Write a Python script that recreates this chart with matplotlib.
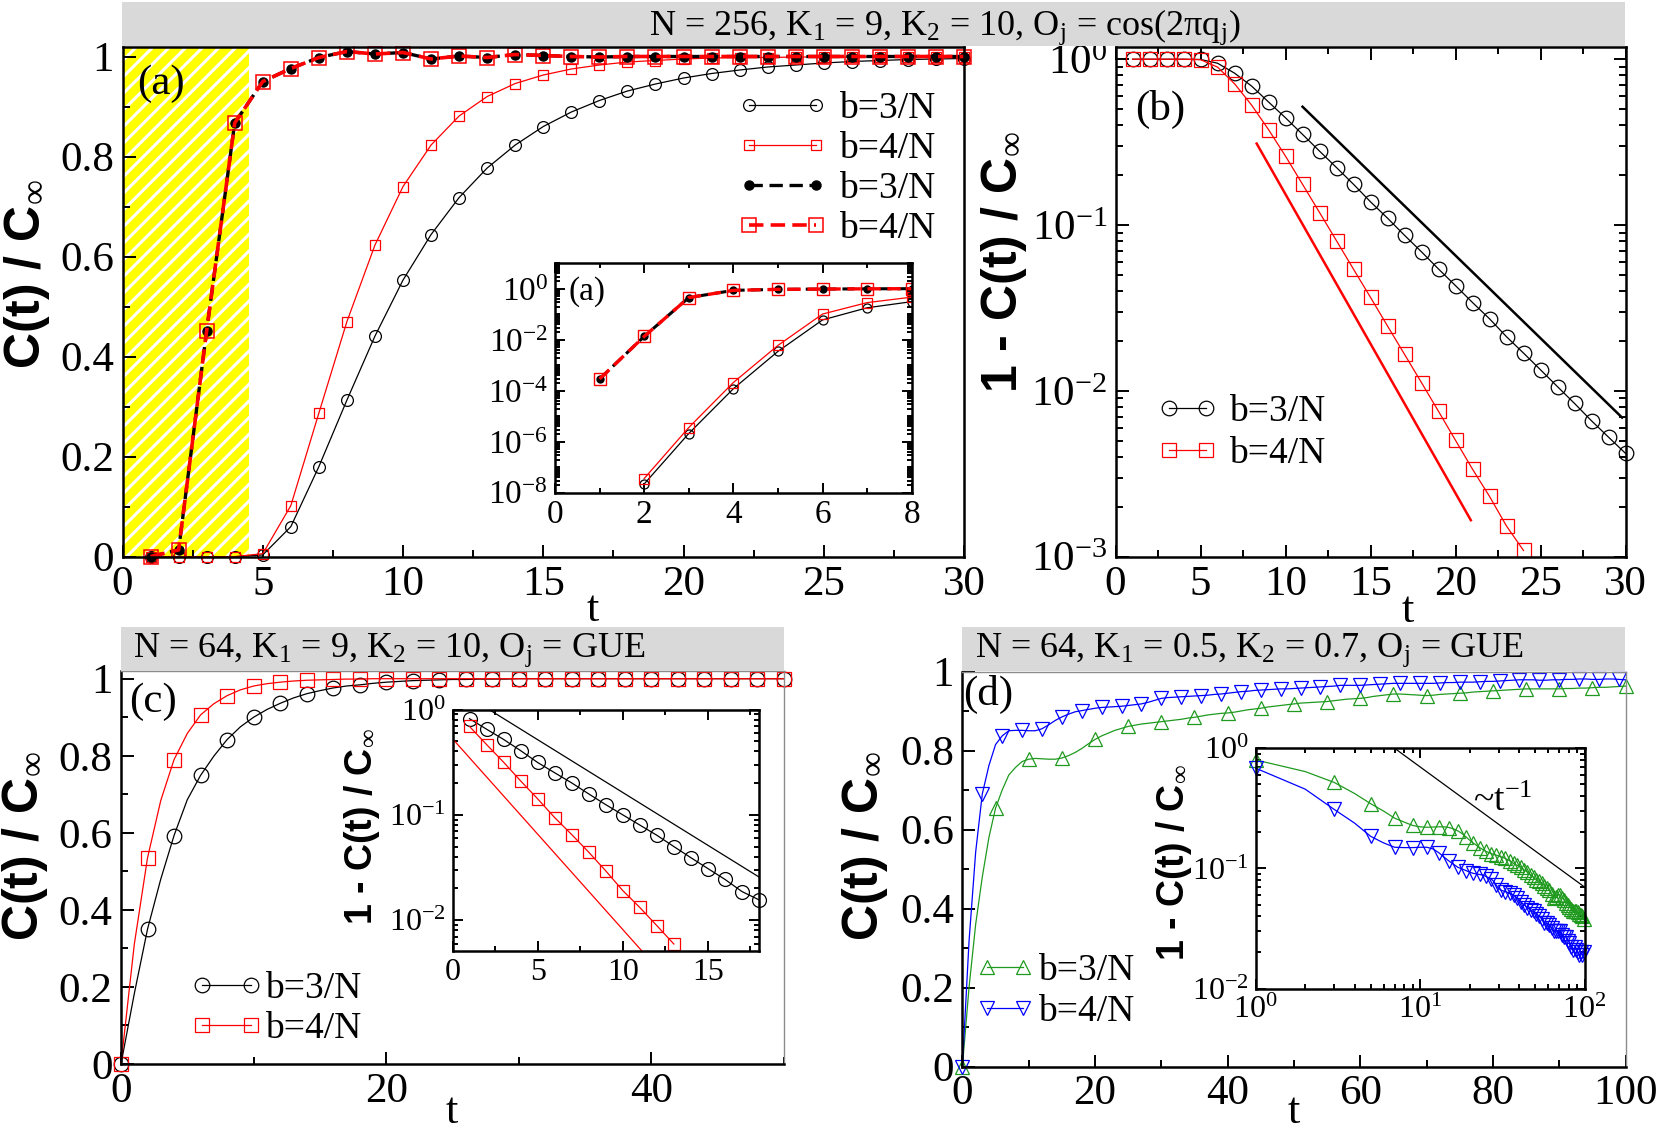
import numpy as np
import matplotlib
matplotlib.use('Agg')
import matplotlib.pyplot as plt
from matplotlib.ticker import MultipleLocator, LogLocator, LogFormatterMathtext, FixedLocator, NullFormatter
from matplotlib.patches import Rectangle

plt.rcParams['font.family'] = ['Liberation Serif', 'DejaVu Serif']
plt.rcParams['mathtext.fontset'] = 'custom'
plt.rcParams['mathtext.rm'] = 'Liberation Serif'
plt.rcParams['mathtext.it'] = 'Liberation Serif:italic'
plt.rcParams['mathtext.bf'] = 'Liberation Serif:bold'
plt.rcParams['hatch.linewidth'] = 2.2

# ---------------- data ----------------
# panel (a): C(t)/C_inf, N=256
t_a = [1, 2, 3, 4, 5, 6, 7, 8, 9, 10, 11, 12, 13, 14, 15, 16, 17, 18, 19, 20,
       21, 22, 23, 24, 25, 26, 27, 28, 29, 30]
a_b3_solid = [0.0, 2.2e-8, 2.1e-6, 1.2e-4, 3.5e-3, 0.060, 0.180, 0.313, 0.441, 0.553,
              0.644, 0.718, 0.777, 0.823, 0.860, 0.889, 0.912, 0.931, 0.945, 0.957,
              0.966, 0.973, 0.979, 0.983, 0.987, 0.990, 0.992, 0.994, 0.995, 0.996]
a_b4_solid = [0.0, 3.6e-8, 3.6e-6, 2.1e-4, 6.0e-3, 0.102, 0.287, 0.470, 0.623, 0.740,
              0.823, 0.881, 0.920, 0.946, 0.963, 0.975, 0.983, 0.989, 0.992, 0.995,
              0.997, 0.998, 0.998, 0.999, 0.999, 0.999, 1.0, 1.0, 1.0, 1.0]
a_b3_dash = [2.9e-4, 0.0135, 0.452, 0.867, 0.950, 0.976, 0.998, 1.010, 1.005, 1.008,
             0.995, 1.001, 0.998, 1.004, 1.002, 1.000, 0.999, 1.000, 1.000, 1.000,
             1.000, 1.000, 1.000, 1.000, 1.000, 1.000, 1.000, 1.000, 1.000, 1.000]
a_b4_dash = [2.9e-4, 0.0135, 0.452, 0.867, 0.950, 0.976, 0.998, 1.010, 1.005, 1.008,
             0.995, 1.001, 0.998, 1.004, 1.002, 1.000, 0.999, 1.000, 1.000, 1.000,
             1.000, 1.000, 1.000, 1.000, 1.000, 1.000, 1.000, 1.000, 1.000, 1.000]

# panel (b): 1 - C(t)/C_inf
t_b3 = t_a
b_b3 = [1.0, 1.0, 1.0, 0.9999, 0.9965, 0.946, 0.824, 0.689, 0.552, 0.443,
        0.352, 0.279, 0.222, 0.176, 0.138, 0.110, 0.0867, 0.0689, 0.0543, 0.0431,
        0.0341, 0.0272, 0.0212, 0.0169, 0.0134, 0.0106, 0.0084, 0.0066, 0.00526, 0.0042]
t_b4 = [1, 2, 3, 4, 5, 6, 7, 8, 9, 10, 11, 12, 13, 14, 15, 16, 17, 18, 19, 20, 21, 22, 23, 24]
b_b4 = [1.0, 1.0, 1.0, 0.9998, 0.994, 0.896, 0.711, 0.529, 0.376, 0.260,
        0.176, 0.119, 0.0803, 0.0541, 0.0366, 0.0246, 0.0166, 0.0112, 0.00752, 0.00503,
        0.00337, 0.00231, 0.00153, 0.00109]
guide_b3_t = [11.0, 29.8]
guide_b3_y = [0.517, 0.0069]
guide_b4_t = [8.3, 20.9]
guide_b4_y = [0.310, 0.00166]

# panel (c): N=64, GUE, K1=9, K2=10
t_c = list(range(0, 51))
c_b3 = [0.0, 0.182, 0.350, 0.480, 0.593, 0.686, 0.749, 0.799, 0.842, 0.875,
        0.900, 0.920, 0.936, 0.950, 0.961, 0.969, 0.976, 0.981, 0.984, 0.988,
        0.991, 0.993, 0.995, 0.996, 0.997, 0.998, 0.998, 0.999, 0.999, 0.999,
        1.0, 1.0, 1.0, 1.0, 1.0, 1.0, 1.0, 1.0, 1.0, 1.0,
        1.0, 1.0, 1.0, 1.0, 1.0, 1.0, 1.0, 1.0, 1.0, 1.0, 1.0]
c_b4 = [0.0, 0.310, 0.535, 0.684, 0.790, 0.858, 0.906, 0.935, 0.956, 0.971,
        0.981, 0.987, 0.991, 0.994, 0.996, 0.997, 0.998, 0.999, 0.999, 1.0,
        1.0, 1.0, 1.0, 1.0, 1.0, 1.0, 1.0, 1.0, 1.0, 1.0,
        1.0, 1.0, 1.0, 1.0, 1.0, 1.0, 1.0, 1.0, 1.0, 1.0,
        1.0, 1.0, 1.0, 1.0, 1.0, 1.0, 1.0, 1.0, 1.0, 1.0, 1.0]
ci_t3 = [1, 2, 3, 4, 5, 6, 7, 8, 9, 10, 11, 12, 13, 14, 15, 16, 17, 18]
ci_b3 = [0.818, 0.650, 0.520, 0.407, 0.314, 0.251, 0.201, 0.158, 0.125, 0.100,
         0.080, 0.064, 0.050, 0.0392, 0.0309, 0.0244, 0.0187, 0.0156]
ci_t4 = [1, 2, 3, 4, 5, 6, 7, 8, 9, 10, 11, 12, 13]
ci_b4 = [0.690, 0.465, 0.316, 0.210, 0.142, 0.0942, 0.065, 0.0442, 0.0294, 0.0191,
         0.0132, 0.00888, 0.00594]
guide_c3_t = [0.0, 18.0]
guide_c3_y = [1.64, 0.0257]
guide_c4_t = [0.0, 18.0]
guide_c4_y = [0.528, 2.9e-4]

# panel (d): N=64, GUE, K1=0.5, K2=0.7 ; decay = 1 - C(t)/C_inf, t = 0..100
t_d = list(range(0, 101))
d_decay_b3 = [1.0, 0.80, 0.64, 0.52, 0.42, 0.346, 0.300, 0.262, 0.243, 0.228,
              0.222, 0.220, 0.221, 0.222, 0.222, 0.219, 0.213, 0.205, 0.195, 0.183,
              0.172, 0.163, 0.156, 0.149, 0.144, 0.139, 0.136, 0.133, 0.131, 0.129,
              0.127, 0.125, 0.123, 0.121, 0.118, 0.116, 0.113, 0.110, 0.108, 0.106,
              0.105, 0.103, 0.100, 0.097, 0.095, 0.093, 0.090, 0.088, 0.086, 0.084,
              0.082, 0.080, 0.079, 0.078, 0.077, 0.076, 0.074, 0.072, 0.070, 0.069,
              0.068, 0.066, 0.063, 0.061, 0.059, 0.057, 0.057, 0.058, 0.059, 0.060,
              0.061, 0.060, 0.058, 0.057, 0.056, 0.055, 0.054, 0.052, 0.051, 0.050,
              0.049, 0.048, 0.047, 0.046, 0.045, 0.044, 0.044, 0.044, 0.044, 0.044,
              0.044, 0.043, 0.043, 0.042, 0.042, 0.041, 0.040, 0.040, 0.039, 0.038, 0.037]
d_decay_b4 = [1.0, 0.683, 0.457, 0.310, 0.238, 0.185, 0.163, 0.150, 0.149, 0.149,
              0.150, 0.150, 0.145, 0.135, 0.124, 0.115, 0.108, 0.102, 0.099, 0.096,
              0.093, 0.091, 0.090, 0.089, 0.088, 0.086, 0.084, 0.082, 0.078, 0.073,
              0.068, 0.066, 0.065, 0.064, 0.063, 0.062, 0.061, 0.060, 0.058, 0.057,
              0.055, 0.053, 0.051, 0.050, 0.048, 0.047, 0.046, 0.045, 0.044, 0.044,
              0.043, 0.042, 0.041, 0.040, 0.039, 0.038, 0.037, 0.035, 0.035, 0.035,
              0.035, 0.034, 0.033, 0.032, 0.031, 0.030, 0.030, 0.030, 0.030, 0.030,
              0.030, 0.030, 0.029, 0.028, 0.028, 0.027, 0.027, 0.027, 0.026, 0.025,
              0.025, 0.024, 0.023, 0.022, 0.021, 0.021, 0.021, 0.022, 0.022, 0.021,
              0.021, 0.020, 0.020, 0.019, 0.019, 0.020, 0.020, 0.019, 0.019, 0.020, 0.021]
guide_d_t = [7.0, 100.0]
guide_d_y = [1.0, 0.070]

legend_labels = ['b=3/N', 'b=4/N']

# ---------------- layout ----------------
W, H = 1663, 1134
fig = plt.figure(figsize=(W / 100, H / 100), dpi=100)
fig.patch.set_facecolor('white')


def add_ax(l, t, r, b):
    return fig.add_axes([l / W, 1 - b / H, (r - l) / W, (b - t) / H])


def fx(x):
    return x / W


def fy(y):
    return 1 - y / H


def style(ax, top=False, right=False, lw=1.8, labelsize=31, gray=False,
          maj=9, mnr=5, pad=6):
    ax.tick_params(which='both', direction='in', top=top, right=right,
                   width=1.4, labelsize=labelsize, pad=pad)
    ax.tick_params(which='major', length=maj)
    ax.tick_params(which='minor', length=mnr)
    for s in ax.spines.values():
        s.set_linewidth(lw)
    if gray:
        for k in ('top', 'right'):
            ax.spines[k].set_linewidth(1.0)
            ax.spines[k].set_color('#8c8c8c')


def legend(ax, handles, labels, x, y, hl, tp, ls):
    ax.legend(handles, labels, loc='upper left', bbox_to_anchor=(fx(x), fy(y)),
              bbox_transform=fig.transFigure, frameon=False, borderpad=0, borderaxespad=0,
              handlelength=hl, handletextpad=tp, labelspacing=ls, numpoints=2, fontsize=27)


HEAD = '#d9d9d9'
fig.patches.append(Rectangle((fx(122), fy(46)), (1625 - 122) / W, 44 / H,
                             transform=fig.transFigure, facecolor=HEAD, edgecolor='none', zorder=0))
fig.patches.append(Rectangle((fx(121), fy(671)), (784 - 121) / W, 44 / H,
                             transform=fig.transFigure, facecolor=HEAD, edgecolor='none', zorder=0))
fig.patches.append(Rectangle((fx(962), fy(671)), (1625 - 962) / W, 44 / H,
                             transform=fig.transFigure, facecolor=HEAD, edgecolor='none', zorder=0))

fig.text(fx(945), fy(35), r'N = 256, K$_1$ = 9, K$_2$ = 10, O$_\mathrm{j}$ = cos(2πq$_\mathrm{j}$)',
         ha='center', va='baseline', fontsize=26)
fig.text(fx(133), fy(657), r'N = 64, K$_1$ = 9, K$_2$ = 10, O$_\mathrm{j}$ = GUE',
         ha='left', va='baseline', fontsize=26)
fig.text(fx(975), fy(657), r'N = 64, K$_1$ = 0.5, K$_2$ = 0.7, O$_\mathrm{j}$ = GUE',
         ha='left', va='baseline', fontsize=26)

YLAB = dict(fontfamily='Liberation Sans', fontweight='bold', rotation=90, ha='center', va='center')
RED = '#ff0000'
GREEN = '#1f9a1f'
BLUE = '#0000ff'
ms_kw = dict(mfc='none', mew=0.9)
fmt_lin = plt.FuncFormatter(lambda v, p: ('%g' % round(v, 2)))

# ---------------- panel (a) ----------------
ax = add_ax(122.5, 46.5, 964, 556.7)
ax.axvspan(0, 4.5, facecolor='#ffff00', edgecolor='white', hatch='//', linewidth=0, zorder=0)
l1, = ax.plot(t_a, a_b3_solid, '-', color='k', lw=0.9, marker='o', ms=8.5, mec='k', clip_on=False, **ms_kw)
l2, = ax.plot(t_a, a_b4_solid, '-', color=RED, lw=0.9, marker='s', ms=7.5, mec=RED, clip_on=False, **ms_kw)
l3, = ax.plot(t_a, a_b3_dash, color='k', lw=2.4, ls=(0, (4, 2)), marker='o', ms=6.5, mfc='k', mec='k',
              clip_on=False)
l4, = ax.plot(t_a, a_b4_dash, color=RED, lw=2.6, ls=(0, (4, 2)), marker='s', ms=9.5, mfc='none', mec=RED,
              mew=1.1, clip_on=False)
ax.set_xlim(0, 30)
ax.set_ylim(0, 1.02)
ax.xaxis.set_major_locator(MultipleLocator(5))
ax.xaxis.set_minor_locator(MultipleLocator(2.5))
ax.yaxis.set_major_locator(MultipleLocator(0.2))
ax.yaxis.set_minor_locator(MultipleLocator(0.1))
ax.yaxis.set_major_formatter(fmt_lin)
style(ax)
legend(ax, [l1, l2, l3, l4], [legend_labels[0], legend_labels[1], legend_labels[0], legend_labels[1]],
       738, 91.5, 2.39, 0.3, 0.145)
fig.text(fx(161), fy(84), '(a)', ha='center', va='center', fontsize=31)
fig.text(fx(27), fy(274), r'C(t) / C$_\infty$', fontsize=36, **YLAB)
fig.text(fx(593), fy(610), 't', ha='center', va='center', fontsize=32)

# inset (a)
axi = add_ax(555, 263.3, 911.7, 492.7)
axi.plot(t_a[1:8], a_b3_solid[1:8], '-', color='k', lw=0.9, marker='o', ms=6.5, mec='k', **ms_kw)
axi.plot(t_a[1:8], a_b4_solid[1:8], '-', color=RED, lw=0.9, marker='s', ms=7, mec=RED, **ms_kw)
axi.plot(t_a[0:8], a_b3_dash[0:8], color='k', lw=2.2, ls=(0, (4, 2)), marker='o', ms=5, mfc='k', mec='k')
axi.plot(t_a[0:8], a_b4_dash[0:8], color=RED, lw=2.4, ls=(0, (4, 2)), marker='s', ms=8, mfc='none',
         mec=RED, mew=1.0)
axi.set_yscale('log')
axi.set_xlim(0, 8)
axi.set_ylim(1e-8, 10)
axi.xaxis.set_major_locator(MultipleLocator(2))
axi.xaxis.set_minor_locator(MultipleLocator(1))
axi.yaxis.set_major_locator(FixedLocator([1e-8, 1e-6, 1e-4, 1e-2, 1]))
axi.yaxis.set_major_formatter(LogFormatterMathtext())
axi.yaxis.set_minor_locator(LogLocator(base=10, subs=np.arange(1, 10), numticks=100))
axi.yaxis.set_minor_formatter(NullFormatter())
style(axi, top=True, right=True, labelsize=24, maj=7, mnr=3.5, pad=5)
fig.text(fx(587), fy(292), '(a)', ha='center', va='center', fontsize=24)

# ---------------- panel (b) ----------------
ax = add_ax(1115.6, 46.7, 1625.5, 556.7)
m1, = ax.plot(t_b3, b_b3, '-', color='k', lw=0.9, marker='o', ms=10.5, mec='k', clip_on=False, **ms_kw)
m2, = ax.plot(t_b4, b_b4, '-', color=RED, lw=0.9, marker='s', ms=9.5, mec=RED, clip_on=False, **ms_kw)
ax.plot(guide_b3_t, guide_b3_y, '-', color='k', lw=1.8)
ax.plot(guide_b4_t, guide_b4_y, '-', color=RED, lw=1.8)
ax.set_yscale('log')
ax.set_xlim(0, 30)
ax.set_ylim(1e-3, 1.19)
ax.xaxis.set_major_locator(MultipleLocator(5))
ax.xaxis.set_minor_locator(MultipleLocator(2.5))
ax.yaxis.set_major_locator(LogLocator(base=10, numticks=10))
ax.yaxis.set_major_formatter(LogFormatterMathtext())
ax.yaxis.set_minor_locator(LogLocator(base=10, subs=np.arange(2, 10), numticks=100))
ax.yaxis.set_minor_formatter(NullFormatter())
style(ax, top=True, right=True)
legend(ax, [m1, m2], legend_labels, 1157.5, 394.5, 1.6, 0.32, 0.2)
fig.text(fx(1160), fy(109), '(b)', ha='center', va='center', fontsize=31)
fig.text(fx(1004), fy(262), r'1 - C(t) / C$_\infty$', fontsize=36, **YLAB)
fig.text(fx(1408), fy(611), 't', ha='center', va='center', fontsize=32)

# ---------------- panel (c) ----------------
ax = add_ax(121, 671, 784, 1064)
n1, = ax.plot(t_c, c_b3, '-', color='k', lw=0.9, marker='o', ms=10.5, mec='k', markevery=2,
              clip_on=False, **ms_kw)
n2, = ax.plot(t_c, c_b4, '-', color=RED, lw=0.9, marker='s', ms=9.5, mec=RED, markevery=2,
              clip_on=False, **ms_kw)
ax.set_xlim(0, 50)
ax.set_ylim(0, 1.02)
ax.xaxis.set_major_locator(MultipleLocator(20))
ax.xaxis.set_minor_locator(MultipleLocator(10))
ax.yaxis.set_major_locator(MultipleLocator(0.2))
ax.yaxis.set_minor_locator(MultipleLocator(0.1))
ax.yaxis.set_major_formatter(fmt_lin)
style(ax, gray=True)
legend(ax, [n1, n2], legend_labels, 190.5, 971.4, 1.9, 0.1, 0.16)
fig.text(fx(153), fy(702), '(c)', ha='center', va='center', fontsize=31)
fig.text(fx(25), fy(846), r'C(t) / C$_\infty$', fontsize=36, **YLAB)
fig.text(fx(452), fy(1123), 't', ha='center', va='baseline', fontsize=32)

# inset (c)
axi = add_ax(452.5, 709.5, 759, 951)
axi.plot(ci_t3, ci_b3, '-', color='k', lw=0.9, marker='o', ms=10, mec='k', clip_on=False, **ms_kw)
axi.plot(ci_t4, ci_b4, '-', color=RED, lw=0.9, marker='s', ms=9, mec=RED, clip_on=False, **ms_kw)
axi.plot(guide_c3_t, guide_c3_y, '-', color='k', lw=0.9)
axi.plot(guide_c4_t, guide_c4_y, '-', color=RED, lw=0.9)
axi.set_yscale('log')
axi.set_xlim(0, 18)
axi.set_ylim(0.0051, 1.0)
axi.xaxis.set_major_locator(MultipleLocator(5))
axi.xaxis.set_minor_locator(MultipleLocator(2.5))
axi.yaxis.set_major_locator(LogLocator(base=10, numticks=10))
axi.yaxis.set_major_formatter(LogFormatterMathtext())
axi.yaxis.set_minor_locator(LogLocator(base=10, subs=np.arange(2, 10), numticks=100))
axi.yaxis.set_minor_formatter(NullFormatter())
style(axi, top=True, right=True, labelsize=23, maj=7, mnr=3.5, pad=5)
fig.text(fx(362), fy(826), r'1 - C(t) / C$_\infty$', fontsize=27, **YLAB)

# ---------------- panel (d) ----------------
ax = add_ax(962.4, 671.5, 1625.5, 1066.5)
d3 = 1 - np.array(d_decay_b3)
d4 = 1 - np.array(d_decay_b4)
p1, = ax.plot(t_d, d3, '-', color=GREEN, lw=0.9, marker='^', ms=10, mec=GREEN, markevery=5,
              clip_on=False, **ms_kw)
p2, = ax.plot(t_d, d4, '-', color=BLUE, lw=0.9, marker='v', ms=10, mec=BLUE, markevery=3,
              clip_on=False, **ms_kw)
ax.set_xlim(0, 100)
ax.set_ylim(0, 1.0)
ax.xaxis.set_major_locator(MultipleLocator(20))
ax.xaxis.set_minor_locator(MultipleLocator(10))
ax.yaxis.set_major_locator(MultipleLocator(0.2))
ax.yaxis.set_minor_locator(MultipleLocator(0.1))
ax.yaxis.set_major_formatter(fmt_lin)
style(ax, gray=True)
legend(ax, [p1, p2], legend_labels, 976, 954, 1.56, 0.1, 0.16)
fig.text(fx(988), fy(694), '(d)', ha='center', va='center', fontsize=31)
fig.text(fx(865), fy(846), r'C(t) / C$_\infty$', fontsize=36, **YLAB)
fig.text(fx(1294), fy(1123), 't', ha='center', va='baseline', fontsize=32)

# inset (d)
axi = add_ax(1255.7, 748.3, 1584.5, 988.5)
axi.plot(t_d[1:], d_decay_b3[1:], '-', color=GREEN, lw=0.9, marker='^', ms=9.5, mec=GREEN, markevery=2,
         clip_on=False, **ms_kw)
axi.plot(t_d[1:], d_decay_b4[1:], '-', color=BLUE, lw=0.9, marker='v', ms=9.5, mec=BLUE, markevery=2,
         clip_on=False, **ms_kw)
axi.plot(guide_d_t, guide_d_y, '-', color='k', lw=0.9)
axi.set_xscale('log')
axi.set_yscale('log')
axi.set_xlim(1, 100)
axi.set_ylim(0.01, 1.0)
for a in (axi.xaxis, axi.yaxis):
    a.set_major_locator(LogLocator(base=10, numticks=10))
    a.set_major_formatter(LogFormatterMathtext())
    a.set_minor_locator(LogLocator(base=10, subs=np.arange(2, 10), numticks=100))
    a.set_minor_formatter(NullFormatter())
style(axi, top=True, right=True, labelsize=23, maj=7, mnr=3.5, pad=5)
axi.text(32, 0.36, r'~t$^{-1}$', ha='center', va='center', fontsize=27)
fig.text(fx(1174), fy(862), r'1 - C(t) / C$_\infty$', fontsize=27, **YLAB)

fig.savefig('out.png', dpi=100, facecolor='white')
